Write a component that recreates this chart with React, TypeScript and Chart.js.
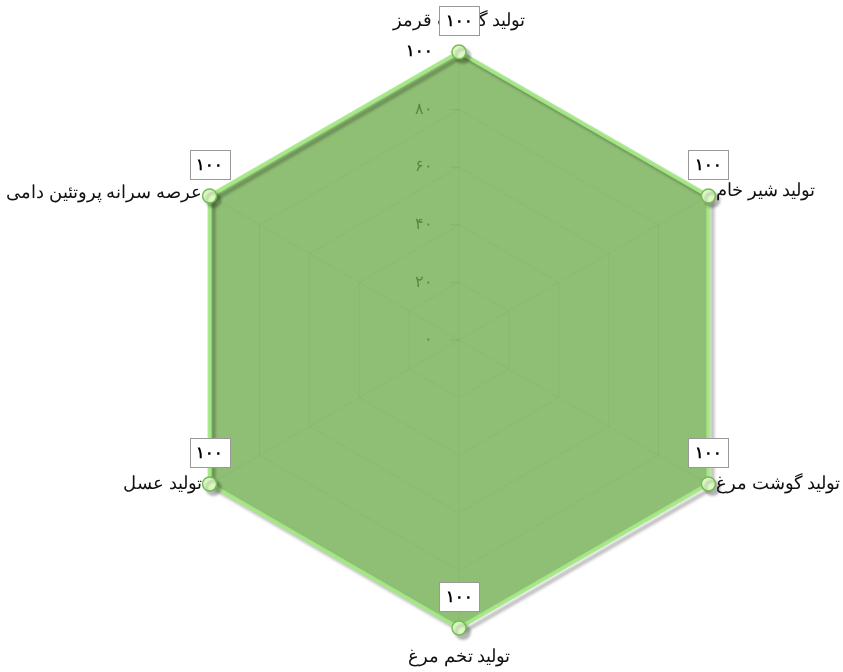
import React, { useEffect, useRef } from 'react';
import { Chart, registerables } from 'chart.js';

Chart.register(...registerables);

const categories = [
  'تولید گوشت قرمز',
  'تولید شیر خام',
  'تولید گوشت مرغ',
  'تولید تخم مرغ',
  'تولید عسل',
  'عرصه سرانه پروتئین دامی',
];
const values = [100, 100, 100, 100, 100, 100];
const tickValues = [0, 20, 40, 60, 80, 100];
const tickLabels = ['۰', '۲۰', '۴۰', '۶۰', '۸۰', '۱۰۰'];

const FONT = 'serif';
const toFa = (n: number) => String(n).replace(/\d/g, (d) => '۰۱۲۳۴۵۶۷۸۹'[+d]);

const radarDecor = {
  id: 'radarDecor',
  beforeDatasetsDraw(chart: any) {
    const scale = chart.scales.r;
    const ctx = chart.ctx;
    ctx.save();
    tickValues.forEach((v, i) => {
      const d = scale.getDistanceFromCenterForValue(v);
      const x = scale.xCenter;
      const y = scale.yCenter - d;
      ctx.strokeStyle = 'rgba(0,0,0,0.2)';
      ctx.lineWidth = 1;
      ctx.beginPath();
      ctx.moveTo(x - 9, y);
      ctx.lineTo(x, y);
      ctx.stroke();
      const last = i === tickValues.length - 1;
      ctx.fillStyle = last ? '#000' : '#222';
      ctx.font = (last ? 'bold ' : '') + '16px ' + FONT;
      ctx.textAlign = 'right';
      ctx.textBaseline = 'middle';
      ctx.fillText(tickLabels[i], x - 26, y);
    });
    ctx.restore();
  },
  beforeDatasetDraw(chart: any) {
    const ctx = chart.ctx;
    ctx.save();
    ctx.shadowColor = 'rgba(0,0,0,0.28)';
    ctx.shadowOffsetX = 4;
    ctx.shadowOffsetY = 4;
    ctx.shadowBlur = 3;
  },
  afterDatasetDraw(chart: any) {
    chart.ctx.restore();
  },
  afterDatasetsDraw(chart: any) {
    const scale = chart.scales.r;
    const ctx = chart.ctx;
    const r = scale.drawingArea;
    ctx.save();
    ctx.fillStyle = '#111';
    ctx.font = '18px ' + FONT;
    ctx.textBaseline = 'middle';
    categories.forEach((label, i) => {
      const p = scale.getPointPosition(i, r);
      let x = p.x;
      let y = p.y;
      let align: CanvasTextAlign = 'center';
      if (i === 0) { y = p.y - 31; }
      else if (i === 1) { x = p.x + 8; y = p.y - 5; align = 'left'; }
      else if (i === 2) { x = p.x + 8; y = p.y; align = 'left'; }
      else if (i === 3) { y = p.y + 29; }
      else if (i === 4) { x = p.x - 8; y = p.y; align = 'right'; }
      else { x = p.x - 8; y = p.y - 3; align = 'right'; }
      ctx.textAlign = align;
      ctx.fillText(label, x, y);
    });
    const meta = chart.getDatasetMeta(0);
    meta.data.forEach((pt: any, i: number) => {
      const w = 40;
      const h = 29;
      const bx = Math.round(pt.x - w / 2) + 0.5;
      const by = Math.round(pt.y - 17 - h) + 0.5;
      ctx.fillStyle = '#fff';
      ctx.fillRect(bx, by, w, h);
      ctx.strokeStyle = '#999';
      ctx.lineWidth = 1;
      ctx.strokeRect(bx, by, w, h);
      ctx.fillStyle = '#000';
      ctx.font = 'bold 16px ' + FONT;
      ctx.textAlign = 'center';
      ctx.textBaseline = 'middle';
      ctx.fillText(toFa(values[i]), pt.x, by + h / 2 + 1);
    });
    ctx.restore();
  },
};

export default function App() {
  const ref = useRef<HTMLCanvasElement>(null);
  useEffect(() => {
    if (!ref.current) return;
    const chart = new Chart(ref.current, {
      type: 'radar',
      data: {
        labels: categories,
        datasets: [
          {
            data: values,
            fill: true,
            backgroundColor: 'rgba(106,170,70,0.75)',
            borderColor: 'rgba(165,232,135,0.95)',
            borderWidth: 4,
            pointRadius: 7,
            pointBackgroundColor: '#dcf8c4',
            pointBorderColor: '#74bd52',
            pointBorderWidth: 1.5,
          },
        ],
      },
      options: {
        responsive: false,
        animation: false,
        devicePixelRatio: 1,
        layout: { padding: { left: 171, right: 96, top: 52, bottom: 44 } },
        plugins: { legend: { display: false }, tooltip: { enabled: false } },
        scales: {
          r: {
            min: 0,
            max: 100,
            ticks: { display: false, stepSize: 20 },
            grid: { color: 'rgba(0,0,0,0.1)' },
            angleLines: { color: 'rgba(0,0,0,0.1)' },
            pointLabels: { display: false },
          },
        },
      },
      plugins: [radarDecor],
    });
    return () => chart.destroy();
  }, []);
  return (
    <div style={{ position: 'absolute', left: 0, top: 0, width: 843, height: 672 }}>
      <canvas ref={ref} width={843} height={672} style={{ display: 'block' }} />
    </div>
  );
}
